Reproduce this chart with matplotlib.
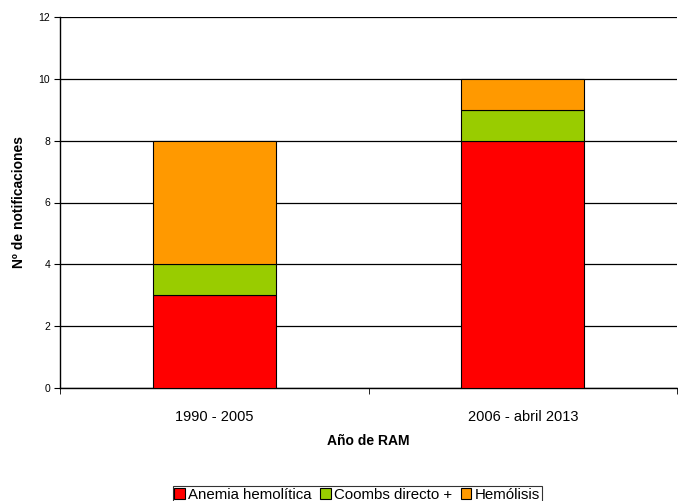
import matplotlib.pyplot as plt
import numpy as np

categories = ['1990 - 2005', '2006 - abril 2013']
anemia = [3, 8]
coombs = [1, 1]
hemolisis = [4, 1]
series_names = ['Anemia hemolítica', 'Coombs directo +', 'Hemólisis']
colors = ['#FF0000', '#99CC00', '#FF9900']

plt.rcParams['font.family'] = ['Liberation Sans', 'DejaVu Sans']

fig = plt.figure(figsize=(6.78, 5.01), dpi=100)
ax = fig.add_axes([60 / 678, 113 / 501, 617 / 678, 371 / 501])

x = np.arange(len(categories))
bottom = np.zeros(len(categories))
for vals, name, col in zip([anemia, coombs, hemolisis], series_names, colors):
    ax.bar(x, vals, width=0.4, bottom=bottom, color=col, edgecolor='black',
           linewidth=0.8, label=name, zorder=3)
    bottom += np.array(vals)

ax.set_xlim(-0.5, len(categories) - 0.5)
ax.set_ylim(0, 12)
ax.set_yticks(range(0, 13, 2))
ax.yaxis.grid(True, color='black', linewidth=0.9, zorder=0)
ax.set_axisbelow(True)

# category labels in the middle, tick marks on the boundaries
ax.set_xticks(x)
ax.set_xticklabels(categories, fontsize=10.5)
ax.tick_params(axis='x', which='major', length=0, pad=16)
ax.set_xticks(np.arange(-0.5, len(categories)), minor=True)
ax.tick_params(axis='x', which='minor', length=4, direction='out')
ax.tick_params(axis='y', labelsize=7.5, length=4, direction='out', pad=3)

for s in ['top', 'right']:
    ax.spines[s].set_visible(False)
ax.spines['left'].set_linewidth(1.0)
ax.spines['bottom'].set_linewidth(1.0)

ax.set_ylabel('Nº de notificaciones', fontsize=10, fontweight='bold', va='center')
ax.yaxis.set_label_coords((19 - 60) / 617, 0.5)
ax.set_xlabel('Año de RAM', fontsize=10, fontweight='bold', va='center')
ax.xaxis.set_label_coords(0.5, (388 - 441) / 371)

leg = fig.legend(loc='lower center', bbox_to_anchor=(0.527, -0.004), ncol=3,
                 fontsize=10.8, frameon=True, fancybox=False, edgecolor='black',
                 handlelength=0.7, handleheight=0.7, handletextpad=0.25,
                 columnspacing=0.55, borderpad=0.1, borderaxespad=0)
leg.get_frame().set_linewidth(0.8)

fig.savefig('out.png', dpi=100)
